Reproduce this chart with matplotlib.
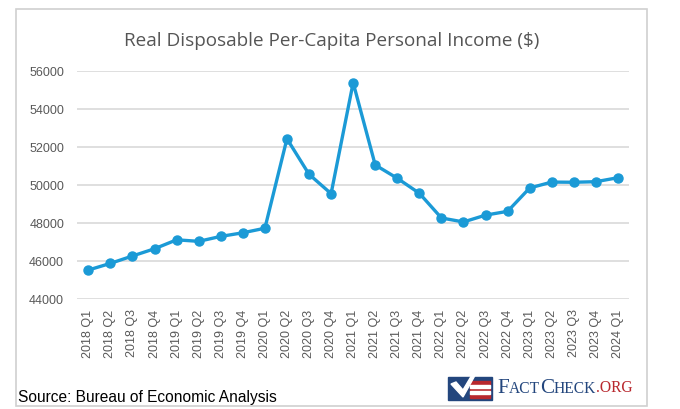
import matplotlib.pyplot as plt
from matplotlib.patches import Rectangle, Polygon

# data
quarters = ['2018 Q1', '2018 Q2', '2018 Q3', '2018 Q4',
            '2019 Q1', '2019 Q2', '2019 Q3', '2019 Q4',
            '2020 Q1', '2020 Q2', '2020 Q3', '2020 Q4',
            '2021 Q1', '2021 Q2', '2021 Q3', '2021 Q4',
            '2022 Q1', '2022 Q2', '2022 Q3', '2022 Q4',
            '2023 Q1', '2023 Q2', '2023 Q3', '2023 Q4',
            '2024 Q1']
income = [45510, 45860, 46250, 46630,
          47100, 47020, 47280, 47470,
          47710, 52420, 50550, 49530,
          55370, 51040, 50340, 49550,
          48250, 48040, 48400, 48600,
          49830, 50140, 50130, 50160,
          50370]
y_ticks = [44000, 46000, 48000, 50000, 52000, 54000, 56000]

line_col = '#1b9ad6'
grey_txt = '#595959'

fig = plt.figure(figsize=(6.8, 4.1), dpi=100)

# overlay in pixel coords for frame, title, source and logo
deco = fig.add_axes([0, 0, 1, 1])
deco.set_xlim(0, 680)
deco.set_ylim(410, 0)
deco.axis('off')
deco.add_patch(Rectangle((16, 10), 631, 397, fill=False, edgecolor='#d0d0d0', linewidth=1.2))

ax = fig.add_axes([0.1137, 0.269, 0.8113, 0.556])
x = list(range(len(quarters)))
ax.plot(x, income, color=line_col, linewidth=2.4, marker='o', markersize=6.5, zorder=3)
ax.set_xlim(-0.5, len(quarters) - 0.5)
ax.set_ylim(44000, 56000)
ax.set_yticks(y_ticks)
ax.set_yticklabels([str(v) for v in y_ticks], fontfamily='Liberation Sans', fontsize=9, color=grey_txt)
ax.set_xticks(x)
ax.set_xticklabels(quarters, rotation=90, fontfamily='Liberation Sans', fontsize=9, color=grey_txt)
ax.tick_params(axis='y', length=0, pad=9.5)
ax.tick_params(axis='x', length=0, pad=7)
ax.grid(axis='y', color='#d6d6d6', linewidth=1.1)
ax.set_axisbelow(True)
for s in ax.spines.values():
    s.set_visible(False)
ax.patch.set_alpha(0)

deco.text(332, 41, 'Real Disposable Per-Capita Personal Income ($)', ha='center', va='center',
          fontfamily='Open Sans', fontsize=13.6, color='#555555')
deco.text(18, 398, 'Source: Bureau of Economic Analysis', ha='left', va='center',
          fontfamily='Liberation Sans', fontsize=11.2, color='black')

# FactCheck.org logo (rough)
blue = '#23467d'
red = '#b8282e'
deco.add_patch(Rectangle((448, 378), 44, 23, color=blue, zorder=2))
for y0 in (382, 388.5, 395):
    deco.add_patch(Rectangle((470, y0), 20, 3.5, color=red, zorder=3))
for y0 in (385.5, 392):
    deco.add_patch(Rectangle((470, y0), 20, 3, color='white', zorder=3))
deco.add_patch(Polygon([(451, 385), (456, 383), (463, 391), (476, 369), (478, 371), (463, 398)],
                       closed=True, color='white', zorder=4))

serif = 'Liberation Serif'
t = deco.text(497, 393.5, 'F', fontfamily=serif, fontsize=15.2, color=blue, va='baseline')
pieces = [('ACT', 11.2, blue), ('C', 15.2, blue), ('HECK', 11.2, blue), ('.ORG', 11.2, red)]
for s, fs, c in pieces:
    big = fs > 12
    t = deco.annotate(s, xy=(1, 0), xycoords=t, xytext=(0, -0.9 if big else 0.9),
                      textcoords='offset points', va='bottom', ha='left',
                      fontfamily=serif, fontsize=fs, color=c)

fig.savefig('out.png', dpi=100)
